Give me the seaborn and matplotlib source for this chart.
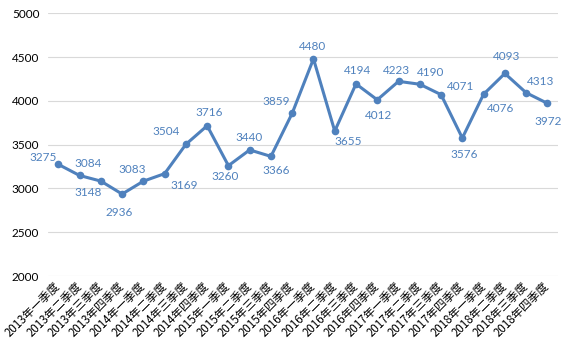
import matplotlib
matplotlib.use("Agg")
import matplotlib.pyplot as plt
import matplotlib.transforms as mtransforms
import pandas as pd
import seaborn as sns

# quarterly values, 2013 Q1 .. 2018 Q4
years = ["2013", "2014", "2015", "2016", "2017", "2018"]
quarter_names = ["一", "二", "三", "四"]
quarters = [f"{y}年{q}季度" for y in years for q in quarter_names]

values = [3275, 3148, 3084, 2936, 3083, 3169, 3504, 3716,
          3260, 3440, 3366, 3859, 4480, 3655, 4194, 4012,
          4223, 4190, 4071, 3576, 4076, 4313, 4093, 3972]

y_ticks = [2000, 2500, 3000, 3500, 4000, 4500, 5000]

# label offsets from each point, in pixels (x right, y down)
label_offsets = [(-15, -7), (9, 17), (-13, -18), (-3, 18), (-11, -12), (20, 12),
                 (-20, -13), (2, -13), (-3, 11), (-1, -12), (5, 14), (-16, -12),
                 (-1, -12), (13, 10), (2, -13), (1, 16), (-2, -11), (11, -12),
                 (20, -8), (2, 16), (17, 14), (36, 8), (-20, -36), (1, 18)]

BLUE = "#4F81BD"

sns.set_style("white")
plt.rcParams["font.family"] = ["Lato", "Noto Sans CJK SC", "DejaVu Sans"]

df = pd.DataFrame({"quarter": quarters, "value": values})

fig = plt.figure(figsize=(5.8, 3.55), dpi=100)
ax = fig.add_axes([0.0822, 0.2225, 0.8799, 0.7400])

sns.lineplot(
    data=df,
    x="quarter",
    y="value",
    ax=ax,
    color=BLUE,
    linewidth=2.2,
    marker="o",
    markersize=5.5,
    markeredgewidth=0,
    sort=False
)

for i, v in enumerate(values):
    dx, dy = label_offsets[i]
    ax.annotate(
        str(v),
        (i, v),
        xytext=(dx * 0.72, -dy * 0.72),
        textcoords="offset points",
        ha="center",
        va="center",
        color=BLUE,
        fontsize=8.5,
        family="Lato"
    )

ax.set_xlim(-0.5, len(values) - 0.5)
ax.set_ylim(2000, 5000)
ax.set_yticks(y_ticks)
ax.set_yticklabels([str(t) for t in y_ticks], fontsize=8.5, color="#000000")
ax.grid(axis="y", color="#D9D9D9", linewidth=0.8)
ax.grid(axis="x", visible=False)
ax.set_axisbelow(True)

ax.set_xticks(range(len(quarters)))
ax.set_xticklabels(quarters, rotation=45, ha="right", va="center",
                   rotation_mode="anchor", fontsize=8.3, color="#000000",
                   family=["Noto Sans CJK SC", "DejaVu Sans"])
shift = mtransforms.ScaledTranslation(5 / 100, -15 / 100, fig.dpi_scale_trans)
for lbl in ax.get_xticklabels():
    lbl.set_transform(lbl.get_transform() + shift)

ax.tick_params(axis="both", length=0, pad=6)
ax.set_xlabel("")
ax.set_ylabel("")
sns.despine(ax=ax, left=True, bottom=True)

plt.savefig("out.png", dpi=100)
plt.close()
